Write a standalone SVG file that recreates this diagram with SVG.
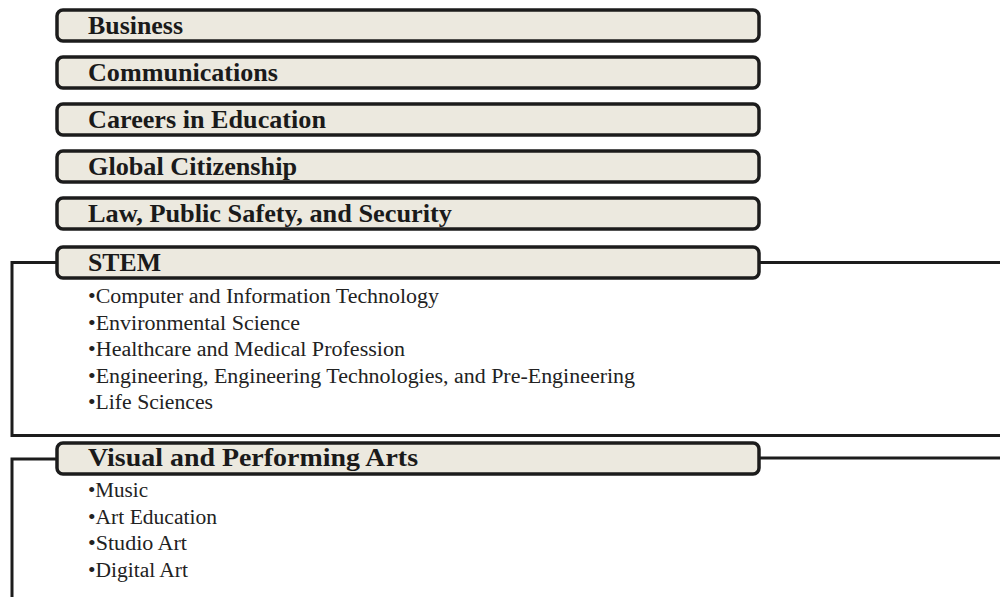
<svg xmlns="http://www.w3.org/2000/svg" width="1000" height="597" viewBox="0 0 1000 597">
<style>
.box{fill:#ECE9DF;stroke:#1c1c1c;stroke-width:3.5}
.t{font-family:"Liberation Serif","Times New Roman",serif;font-weight:bold;font-size:25px;fill:#1a1a1a}
.b{font-family:"Liberation Serif","Times New Roman",serif;font-size:20px;fill:#222}
.c{fill:none;stroke:#1c1c1c;stroke-width:3}
</style>
<rect width="1000" height="597" fill="#fff"/>
<g id="connectors">
<path class="c" d="M57,262.5 H12 V435.5 H1000"/>
<path class="c" d="M759,262.5 H1000"/>
<path class="c" d="M57,459 H12 V597"/>
<path class="c" d="M759,458 H1000"/>
</g>
<g id="business"><rect class="box" x="57" y="10" width="702" height="31" rx="6"/><text class="t" x="88" y="34" textLength="95" lengthAdjust="spacingAndGlyphs">Business</text></g>
<g id="communications"><rect class="box" x="57" y="57" width="702" height="31" rx="6"/><text class="t" x="88" y="81" textLength="190" lengthAdjust="spacingAndGlyphs">Communications</text></g>
<g id="careers"><rect class="box" x="57" y="104" width="702" height="31" rx="6"/><text class="t" x="88" y="128" textLength="238" lengthAdjust="spacingAndGlyphs">Careers in Education</text></g>
<g id="global"><rect class="box" x="57" y="151" width="702" height="31" rx="6"/><text class="t" x="88" y="175" textLength="209" lengthAdjust="spacingAndGlyphs">Global Citizenship</text></g>
<g id="law"><rect class="box" x="57" y="198" width="702" height="31" rx="6"/><text class="t" x="88" y="222" textLength="364" lengthAdjust="spacingAndGlyphs">Law, Public Safety, and Security</text></g>
<g id="stem"><rect class="box" x="57" y="247" width="702" height="31" rx="6"/><text class="t" x="88" y="271" textLength="73" lengthAdjust="spacingAndGlyphs">STEM</text>
<text class="b" x="88" y="303" textLength="351" lengthAdjust="spacingAndGlyphs">•Computer and Information Technology</text>
<text class="b" x="88" y="329.5" textLength="212" lengthAdjust="spacingAndGlyphs">•Environmental Science</text>
<text class="b" x="88" y="356" textLength="317" lengthAdjust="spacingAndGlyphs">•Healthcare and Medical Profession</text>
<text class="b" x="88" y="382.5" textLength="547" lengthAdjust="spacingAndGlyphs">•Engineering, Engineering Technologies, and Pre-Engineering</text>
<text class="b" x="88" y="409" textLength="125" lengthAdjust="spacingAndGlyphs">•Life Sciences</text>
</g>
<g id="arts"><rect class="box" x="57" y="443" width="702" height="31" rx="6"/><text class="t" x="88" y="466" textLength="330" lengthAdjust="spacingAndGlyphs">Visual and Performing Arts</text>
<text class="b" x="88" y="497" textLength="60" lengthAdjust="spacingAndGlyphs">•Music</text>
<text class="b" x="88" y="523.5" textLength="129" lengthAdjust="spacingAndGlyphs">•Art Education</text>
<text class="b" x="88" y="550" textLength="99" lengthAdjust="spacingAndGlyphs">•Studio Art</text>
<text class="b" x="88" y="576.5" textLength="100" lengthAdjust="spacingAndGlyphs">•Digital Art</text>
</g>
</svg>
